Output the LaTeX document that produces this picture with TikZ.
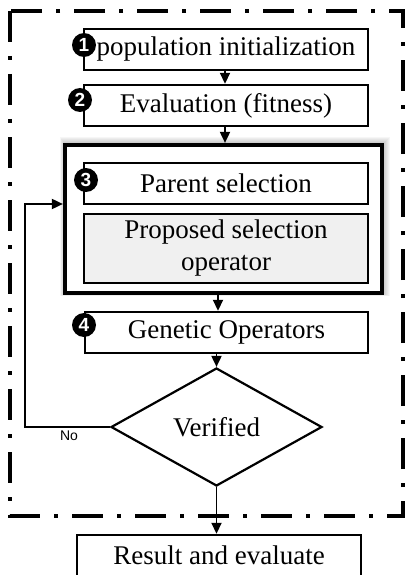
\documentclass[tikz,border=0pt]{standalone}
\usepackage{fontspec}
\setmainfont{Liberation Serif}
\newfontfamily\labelfont{Liberation Sans}
\usetikzlibrary{arrows.meta,shapes.geometric}
\begin{document}
\begin{tikzpicture}[x=1pt,y=-1pt,
  txt/.style={font=\fontsize{27}{32}\selectfont},
  stepbox/.style={draw=black, line width=2.4pt, inner sep=0pt, minimum width=284pt, minimum height=41pt, txt, align=center},
  bigbox/.style={draw=black, line width=4.2pt, inner sep=0pt, minimum width=317pt, minimum height=148pt},
  decision/.style={draw=black, line width=2.2pt, diamond, inner sep=0pt, minimum width=211pt, minimum height=118pt, txt},
  numdot/.style={circle, fill=black, inner sep=0pt, minimum size=24pt, text=white, font=\labelfont\bfseries\fontsize{19}{19}\selectfont},
  flow/.style={line width=1.8pt, -{Triangle[length=11pt,width=10pt]}},
  frame/.style={line width=3.2pt, dash pattern=on 31pt off 14pt on 4pt off 14pt}
]
\useasboundingbox (0,0) rectangle (404,575);
% outer frame
\draw[frame] (10,11) rectangle (403,516);
% shadow of big box
\foreach \i in {1,...,8} {
  \fill[black, opacity=0.035] (65-\i*0.6,145-\i) rectangle (382+\i,293+\i*0.4);
}
\node[bigbox, fill=white] (big) at (223.5,219) {};
% boxes
\node[stepbox] (b1) at (226,49.5) {population initialization};
\node[stepbox] (b2) at (226,105.5) {Evaluation (fitness)};
\node[stepbox] (b3) at (226,183.5) {Parent selection};
\node[stepbox, fill=black!6, minimum height=69pt] (prop) at (226,248.5) {Proposed selection\\operator};
\node[stepbox, minimum width=283pt] (b4) at (226.5,332.5) {Genetic Operators};
\node[decision] (d) at (216.5,427) {Verified};
\node[stepbox] (res) at (219,555.5) {Result and evaluate};
% numbers
\node[numdot] (n1) at (84,45) {1};
\node[numdot] (n2) at (80,100) {2};
\node[numdot] (n3) at (86,180) {3};
\node[numdot] (n4) at (84,325) {4};
% connectors
\coordinate (x1) at (225,0);
\coordinate (x2) at (218,0);
\draw[flow] (b1.south -| x1) -- (b2.north -| x1);
\draw[flow] (b2.south -| x1) -- (big.north -| x1);
\draw[flow] (big.south -| x2) -- (b4.north -| x2);
\draw[flow] (b4.south -| d.north) -- (d.north);
\draw[flow] (d.south) -- (res.north -| d.south);
\coordinate (fb) at (25,204);
\draw[flow] (d.west) -- (d.west -| fb) -- (fb) -- (fb -| big.west);
\node[font=\labelfont\fontsize{14}{14}\selectfont] (no) at (69,436) {No};
\end{tikzpicture}
\end{document}
